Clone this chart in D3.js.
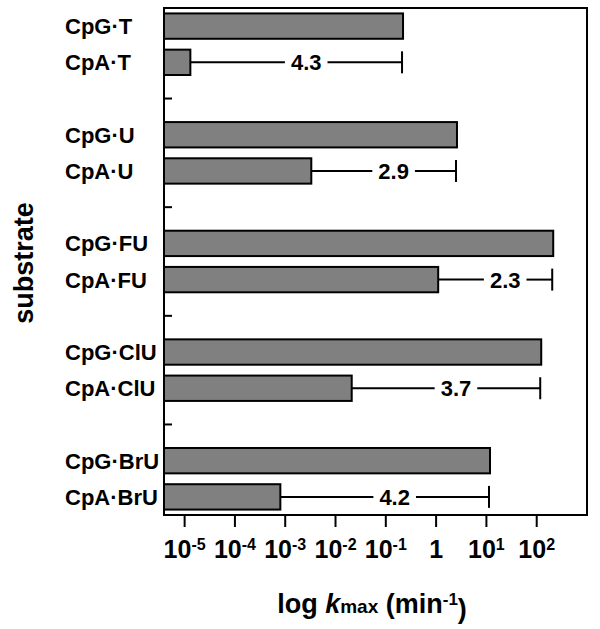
<!DOCTYPE html>
<html>
<head>
<meta charset="utf-8">
<script src="https://cdn.jsdelivr.net/npm/d3@7"></script>
<style>
  body { margin: 0; background: #fff; }
  text { font-family: "Liberation Sans", Arial, sans-serif; font-weight: bold; fill: #000; }
</style>
</head>
<body>
<div id="chart"></div>
<script>
// Chart data
const substrates = ["T", "U", "FU", "ClU", "BrU"];
const cpgKmax = [0.22, 2.6, 213, 123, 11.8];      // CpG·X, min^-1
const cpaKmax = [1.3e-5, 0.0033, 1.1, 0.021, 8e-4]; // CpA·X, min^-1
const foldLabels = ["4.3", "2.9", "2.3", "3.7", "4.2"];
const tickExps = [-5, -4, -3, -2, -1, 0, 1, 2];

const width = 600, height = 629;
const margin = { left: 164, right: 13, top: 8, bottom: 114 };

const svg = d3.select("#chart")
  .append("svg")
  .attr("width", width)
  .attr("height", height);

// slots: CpG, CpA, blank gap, ...
const slots = [];
substrates.forEach((s, i) => {
  slots.push("CpG·" + s, "CpA·" + s);
  if (i < substrates.length - 1) slots.push("gap" + i);
});

const x = d3.scaleLog()
  .domain([Math.pow(10, -5.41), Math.pow(10, 3.0)])
  .range([margin.left, width - margin.right]);

const y = d3.scaleBand()
  .domain(slots)
  .range([margin.top, height - margin.bottom])
  .paddingInner(0.3)
  .paddingOuter(0.15);

const x0 = margin.left;
const bh = y.bandwidth();

// bars
const bars = [];
substrates.forEach((s, i) => {
  bars.push({ name: "CpG·" + s, v: cpgKmax[i] });
  bars.push({ name: "CpA·" + s, v: cpaKmax[i] });
});

svg.append("g")
  .selectAll("rect")
  .data(bars)
  .join("rect")
  .attr("x", x0)
  .attr("y", d => y(d.name))
  .attr("width", d => x(d.v) - x0)
  .attr("height", bh)
  .attr("fill", "#808080")
  .attr("stroke", "#000")
  .attr("stroke-width", 2);

// fold-difference brackets
const br = svg.append("g");
substrates.forEach((s, i) => {
  const yc = y("CpA·" + s) + bh / 2;
  const xa = x(cpaKmax[i]), xg = x(cpgKmax[i]) - 1;
  const tx = (xa + xg) / 2 + 10;
  const t = br.append("text")
    .attr("x", tx)
    .attr("y", yc)
    .attr("dy", "0.36em")
    .attr("text-anchor", "middle")
    .style("font-size", "22px")
    .text(foldLabels[i]);
  const tw = t.node().getComputedTextLength();
  br.append("line")
    .attr("x1", xa).attr("x2", tx - tw / 2 - 6)
    .attr("y1", yc).attr("y2", yc);
  br.append("line")
    .attr("x1", tx + tw / 2 + 6).attr("x2", xg)
    .attr("y1", yc).attr("y2", yc);
  br.append("line")
    .attr("x1", xg).attr("x2", xg)
    .attr("y1", yc - 11).attr("y2", yc + 11);
});
br.selectAll("line").attr("stroke", "#000").attr("stroke-width", 2);

// frame
svg.append("rect")
  .attr("x", x0)
  .attr("y", margin.top)
  .attr("width", width - margin.right - x0)
  .attr("height", height - margin.bottom - margin.top)
  .attr("fill", "none")
  .attr("stroke", "#000")
  .attr("stroke-width", 2);

// y ticks at the blank slots
svg.append("g")
  .selectAll("line")
  .data(slots.filter(d => d.startsWith("gap")))
  .join("line")
  .attr("x1", x0).attr("x2", x0 + 8)
  .attr("y1", d => y(d) + bh / 2)
  .attr("y2", d => y(d) + bh / 2)
  .attr("stroke", "#000")
  .attr("stroke-width", 2);

// y labels
svg.append("g")
  .selectAll("text")
  .data(bars)
  .join("text")
  .attr("x", 65)
  .attr("y", d => y(d.name) + bh / 2)
  .attr("dy", "0.36em")
  .style("font-size", "22px")
  .text(d => d.name);

// x axis
const yb = height - margin.bottom;
const xt = svg.append("g");
xt.selectAll("line")
  .data(tickExps)
  .join("line")
  .attr("x1", d => x(Math.pow(10, d)))
  .attr("x2", d => x(Math.pow(10, d)))
  .attr("y1", yb)
  .attr("y2", yb + 12)
  .attr("stroke", "#000")
  .attr("stroke-width", 2);

tickExps.forEach(e => {
  const t = xt.append("text")
    .attr("x", x(Math.pow(10, e)))
    .attr("y", yb + 43)
    .attr("text-anchor", "middle")
    .style("font-size", "25px");
  if (e === 0) {
    t.text("1");
  } else {
    t.append("tspan").text("10");
    t.append("tspan")
      .attr("dy", "-0.5em")
      .style("font-size", "16px")
      .text(e === 1 ? "1" : e);
  }
});

// axis titles
const xtitle = svg.append("text")
  .attr("x", 372)
  .attr("y", 613)
  .attr("text-anchor", "middle")
  .style("font-size", "27px");
xtitle.append("tspan").text("log ");
xtitle.append("tspan").style("font-style", "italic").text("k");
xtitle.append("tspan").style("font-size", "19px").text("max");
xtitle.append("tspan").text(" (min");
xtitle.append("tspan").attr("dy", "-0.5em").style("font-size", "17px").text("-1");
xtitle.append("tspan").attr("dy", "0.5em").text(")");

svg.append("text")
  .attr("transform", "translate(33,263) rotate(-90)")
  .attr("text-anchor", "middle")
  .style("font-size", "27px")
  .text("substrate");
</script>
</body>
</html>
